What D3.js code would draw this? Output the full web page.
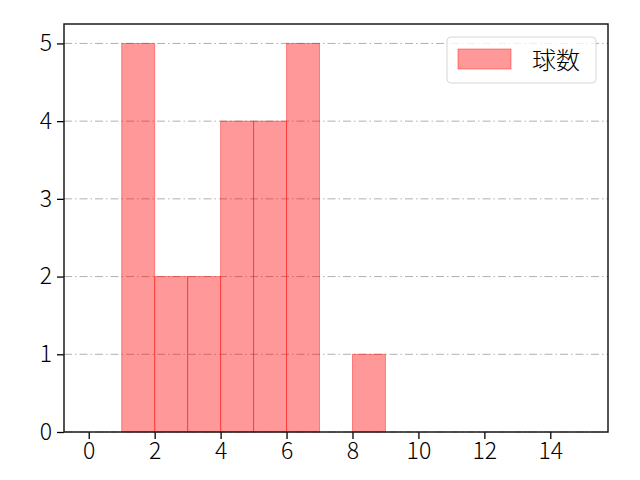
<!DOCTYPE html>
<html>
<head>
<meta charset="utf-8">
<script src="https://cdn.jsdelivr.net/npm/d3@7"></script>
<style>
  body { margin: 0; background: #fff; }
  svg text { font-family: "Noto Sans CJK JP", "DejaVu Sans", sans-serif; fill: #000; font-weight: 300; }
</style>
</head>
<body>
<div id="chart"></div>
<script>
// histogram bins (left edge, right edge) and counts
const binStart = [1, 2, 3, 4, 5, 6, 8];
const binEnd = [2, 3, 4, 5, 6, 7, 9];
const counts = [5, 2, 2, 4, 4, 5, 1];
const xTicks = [0, 2, 4, 6, 8, 10, 12, 14];
const yTicks = [0, 1, 2, 3, 4, 5];
const seriesName = "球数";

const width = 640;
const height = 480;
const margin = { top: 24, right: 32, bottom: 48, left: 64 };

const svg = d3.select("#chart").append("svg")
  .attr("width", width)
  .attr("height", height);

const xScale = d3.scaleLinear().domain([-0.75, 15.75]).range([margin.left, width - margin.right]);
const yScale = d3.scaleLinear().domain([0, 5.25]).range([height - margin.bottom, margin.top]);

// grid
svg.append("g")
  .selectAll("line")
  .data(yTicks)
  .join("line")
  .attr("x1", margin.left)
  .attr("x2", width - margin.right)
  .attr("y1", d => yScale(d))
  .attr("y2", d => yScale(d))
  .attr("stroke", "#b0b0b0")
  .attr("stroke-width", 1)
  .attr("stroke-dasharray", "8,3,1.5,3");

// bars
const bars = binStart.map((s, i) => ({ s: s, e: binEnd[i], c: counts[i] }));
svg.append("g")
  .selectAll("rect")
  .data(bars)
  .join("rect")
  .attr("x", d => xScale(d.s))
  .attr("y", d => yScale(d.c))
  .attr("width", d => xScale(d.e) - xScale(d.s))
  .attr("height", d => yScale(0) - yScale(d.c))
  .attr("fill", "rgba(255,0,0,0.4)")
  .attr("stroke", "rgba(255,0,0,0.4)")
  .attr("stroke-width", 1);

// axes
const xAxis = d3.axisBottom(xScale).tickValues(xTicks).tickFormat(d3.format("d")).tickSize(7).tickPadding(4);
const yAxis = d3.axisLeft(yScale).tickValues(yTicks).tickFormat(d3.format("d")).tickSize(7).tickPadding(5);

const gx = svg.append("g")
  .attr("transform", `translate(0,${height - margin.bottom})`)
  .call(xAxis);
const gy = svg.append("g")
  .attr("transform", `translate(${margin.left},0)`)
  .call(yAxis);

[gx, gy].forEach(g => {
  g.select(".domain").remove();
  g.selectAll(".tick line").attr("stroke", "#000").attr("stroke-width", 1.3);
  g.selectAll(".tick text").attr("font-size", 23).attr("font-family", "Noto Sans CJK JP");
});

// frame
svg.append("rect")
  .attr("x", margin.left)
  .attr("y", margin.top)
  .attr("width", width - margin.left - margin.right)
  .attr("height", height - margin.top - margin.bottom)
  .attr("fill", "none")
  .attr("stroke", "#1a1a1a")
  .attr("stroke-width", 1.5);

// legend
const lg = svg.append("g").attr("transform", "translate(447,37)");
lg.append("rect")
  .attr("width", 149)
  .attr("height", 46)
  .attr("rx", 4)
  .attr("fill", "rgba(255,255,255,0.8)")
  .attr("stroke", "#d6d6d6")
  .attr("stroke-width", 1);
lg.append("rect")
  .attr("x", 11)
  .attr("y", 12)
  .attr("width", 53)
  .attr("height", 20)
  .attr("fill", "rgba(255,0,0,0.4)")
  .attr("stroke", "rgba(255,0,0,0.4)");
lg.append("text")
  .attr("x", 85)
  .attr("y", 23)
  .attr("dy", "0.36em")
  .attr("font-size", 24)
  .text(seriesName);
</script>
</body>
</html>
